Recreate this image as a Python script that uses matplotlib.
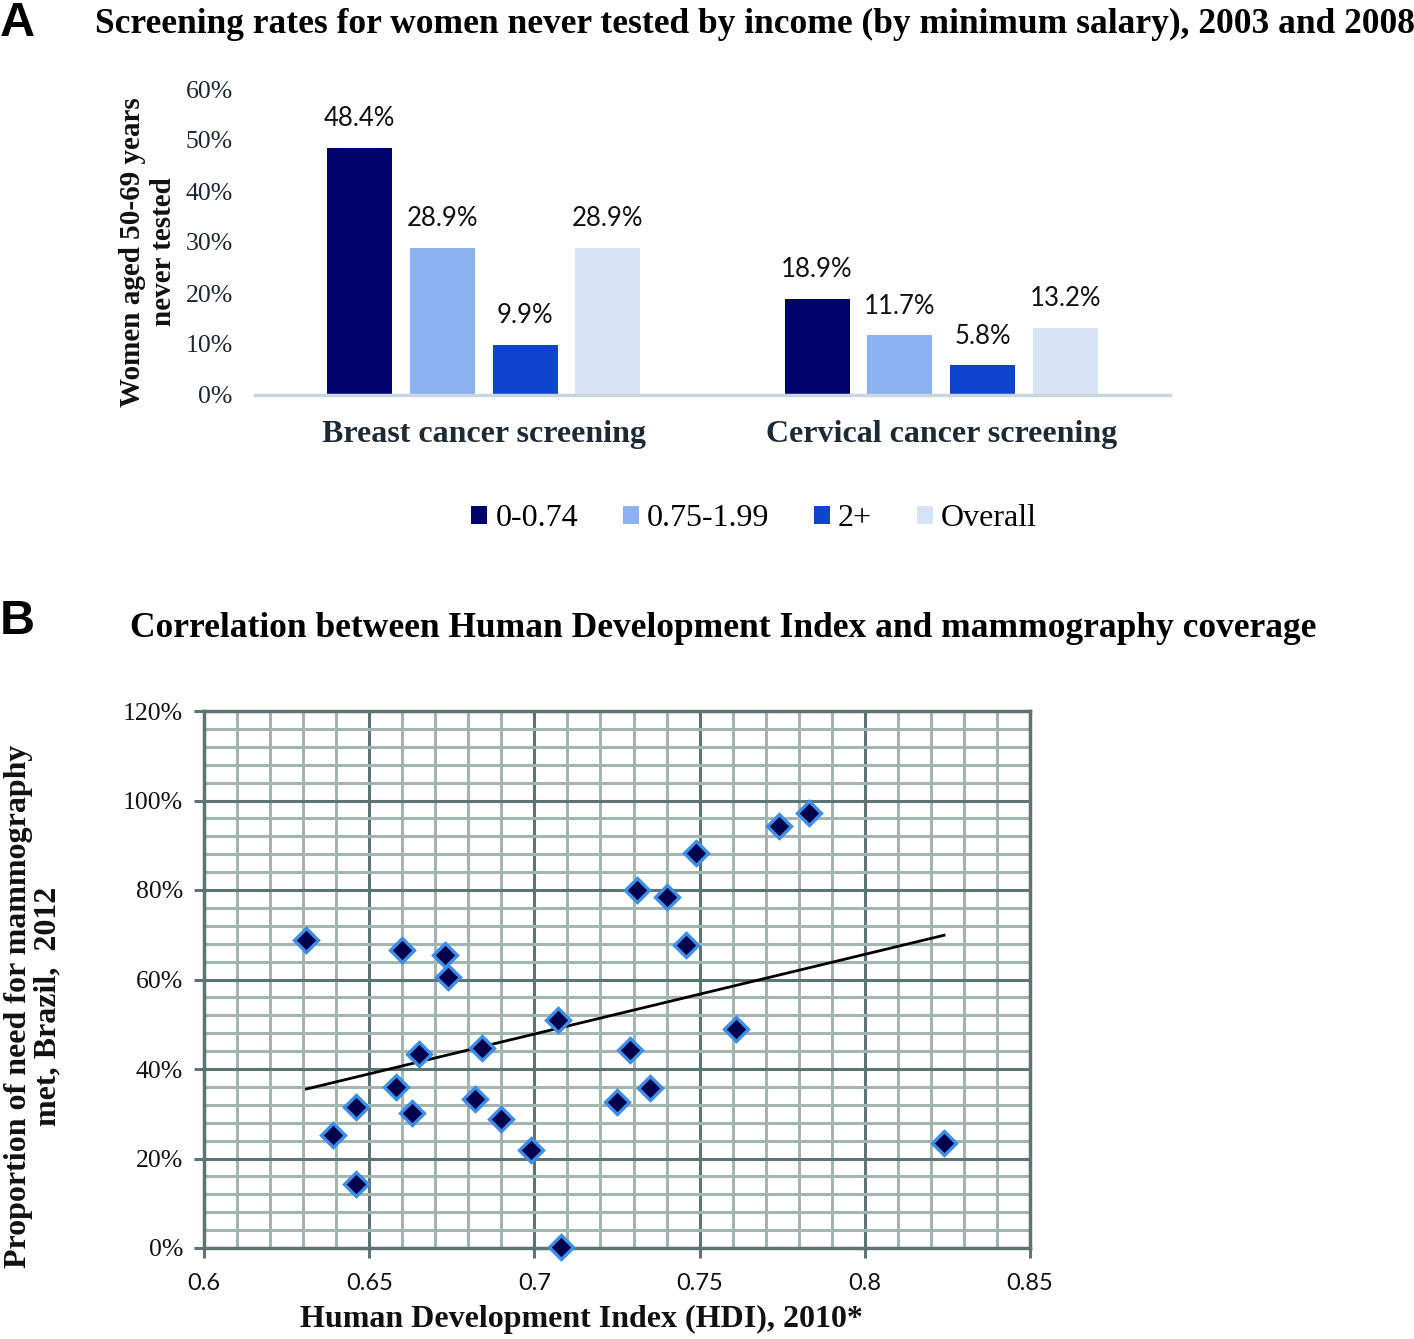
import matplotlib
matplotlib.use("Agg")
import matplotlib.pyplot as plt
import numpy as np
from matplotlib.patches import Patch
from matplotlib.ticker import MultipleLocator, FuncFormatter

# ---------------- Panel A data ----------------
screen_types = ["Breast cancer screening", "Cervical cancer screening"]
income_groups = ["0-0.74", "0.75-1.99", "2+", "Overall"]
income_low = [48.4, 18.9]
income_mid = [28.9, 11.7]
income_high = [9.9, 5.8]
income_overall = [28.9, 13.2]
bar_yticks = [0, 10, 20, 30, 40, 50, 60]

# ---------------- Panel B data ----------------
hdi = [0.631, 0.660, 0.673, 0.674, 0.707, 0.665, 0.684, 0.658, 0.646,
       0.663, 0.682, 0.690, 0.639, 0.699, 0.646, 0.708, 0.783, 0.774,
       0.749, 0.731, 0.740, 0.746, 0.761, 0.729, 0.735, 0.725, 0.824]
coverage = [68.8, 66.6, 65.4, 60.6, 51.0, 43.4, 44.6, 36.0, 31.4,
            30.2, 33.2, 28.8, 25.2, 21.8, 14.4, 0.3, 97.2, 94.4,
            88.2, 80.0, 78.4, 67.8, 49.0, 44.2, 35.8, 32.6, 23.4]
scatter_xticks = [0.6, 0.65, 0.7, 0.75, 0.8, 0.85]
scatter_yticks = [0, 20, 40, 60, 80, 100, 120]

SERIF = "Liberation Serif"
SANS = "Lato"
TXT = "#1b2733"

fig = plt.figure(figsize=(14.14, 13.39), dpi=100)
W, H = 1414, 1339

def fx(px):
    return px / W

def fy(py):
    return 1 - py / H

# ================= Panel A =================
axA = fig.add_axes([fx(255), fy(395), fx(1170) - fx(255), fy(89) - fy(395)])
series = [income_low, income_mid, income_high, income_overall]
colors = ["#02026b", "#8cb2f2", "#0c44cc", "#d5e3f5"]
width = 0.142
step = 0.181
xc = np.arange(len(screen_types))
for i, (vals, col, lab) in enumerate(zip(series, colors, income_groups)):
    pos = xc + (i - 1.5) * step
    bars = axA.bar(pos, vals, width=width, color=col, label=lab, zorder=2)
    for b, v in zip(bars, vals):
        axA.annotate(f"{v:.1f}%", (b.get_x() + b.get_width() / 2, v),
                     xytext=(0, 12), textcoords="offset points",
                     ha="center", va="bottom", fontsize=18.5, family=SANS,
                     color="#111111")
axA.set_xlim(-0.5, 1.5)
axA.set_ylim(0, 60)
axA.set_yticks(bar_yticks)
axA.yaxis.set_major_formatter(FuncFormatter(lambda v, p: f"{int(v)}%"))
axA.set_xticks(xc)
axA.set_xticklabels(screen_types, fontsize=23, family=SERIF, fontweight="bold",
                    color="#1c2a36")
for s in ["top", "right", "left"]:
    axA.spines[s].set_visible(False)
axA.spines["bottom"].set_color("#c9d6df")
axA.spines["bottom"].set_linewidth(2.5)
axA.tick_params(axis="both", length=0)
axA.tick_params(axis="x", pad=18)
axA.tick_params(axis="y", pad=16)
for t in axA.get_yticklabels():
    t.set_fontsize(18.5)
    t.set_family(SERIF)
    t.set_color(TXT)
axA.set_ylabel("Women aged 50-69 years\nnever tested", fontsize=21,
               family=SERIF, fontweight="bold", color="#111111",
               linespacing=1.2)
axA.yaxis.set_label_coords((177 - 255) / (1170 - 255), (395 - 252) / (395 - 89))

handles = [Patch(facecolor=c, edgecolor="none", label=l)
           for c, l in zip(colors, income_groups)]
fig.legend(handles=handles, loc="center", bbox_to_anchor=(fx(754), fy(519)),
           ncol=4, frameon=False, handlelength=0.5, handleheight=0.5,
           handletextpad=0.25, columnspacing=1.4,
           prop={"family": SERIF, "size": 23})

fig.text(fx(95), fy(24), "Screening rates for women never tested by income (by minimum salary), 2003 and 2008",
         fontsize=25.5, family=SERIF, fontweight="bold", ha="left", va="center")
fig.text(fx(0), fy(1), "A", fontsize=35, family="Liberation Sans",
         fontweight="bold", ha="left", va="top")

# ================= Panel B =================
axB = fig.add_axes([fx(204), fy(1248), fx(1030) - fx(204), fy(711) - fy(1248)])
axB.set_xlim(0.6, 0.85)
axB.set_ylim(0, 120)
axB.set_xticks(scatter_xticks)
axB.set_yticks(scatter_yticks)
axB.xaxis.set_minor_locator(MultipleLocator(0.01))
axB.yaxis.set_minor_locator(MultipleLocator(4))
axB.xaxis.set_major_formatter(FuncFormatter(lambda v, p: f"{v:g}"))
axB.yaxis.set_major_formatter(FuncFormatter(lambda v, p: f"{int(round(v))}%"))
axB.grid(which="minor", color="#a3b5b1", linewidth=2.2, zorder=0)
axB.grid(which="major", color="#5e7373", linewidth=2.2, zorder=0)
axB.set_axisbelow(True)
for s in axB.spines.values():
    s.set_color("#5e7373")
    s.set_linewidth(2.5)
axB.tick_params(axis="both", which="major", length=7, width=2.2, color="#5e7373")
axB.tick_params(axis="both", which="minor", length=0)
axB.tick_params(axis="x", pad=11)
axB.tick_params(axis="y", pad=8)
for t in axB.get_xticklabels():
    t.set_fontsize(17)
    t.set_family(SANS)
    t.set_color("#111111")
for t in axB.get_yticklabels():
    t.set_fontsize(18.5)
    t.set_family(SERIF)
    t.set_color("#111111")

axB.plot(hdi, coverage, linestyle="none", marker="D", markersize=12,
         markerfacecolor="#00004d", markeredgecolor="#3d8ee8",
         markeredgewidth=2.4, zorder=4, clip_on=False)

coef = np.polyfit(hdi, coverage, 1)
xs = np.array([min(hdi), max(hdi)])
axB.plot(xs, np.polyval(coef, xs), color="black", linewidth=2, zorder=3)

axB.set_xlabel("Human Development Index (HDI), 2010*", fontsize=23,
               family=SERIF, fontweight="bold", color="#111111")
axB.xaxis.set_label_coords((581 - 204) / (1030 - 204), (1248 - 1305) / (1248 - 711))
axB.set_ylabel("Proportion of need for mammography\nmet, Brazil,  2012",
               fontsize=23, family=SERIF, fontweight="bold", color="#111111",
               linespacing=1.0)
axB.yaxis.set_label_coords((62 - 204) / (1030 - 204), 0.45)

fig.text(fx(130), fy(628), "Correlation between Human Development Index and mammography coverage",
         fontsize=25.5, family=SERIF, fontweight="bold", ha="left", va="center")
fig.text(fx(0), fy(622), "B", fontsize=35, family="Liberation Sans",
         fontweight="bold", ha="left", va="center")

fig.savefig("out.png", dpi=100, facecolor="white")
